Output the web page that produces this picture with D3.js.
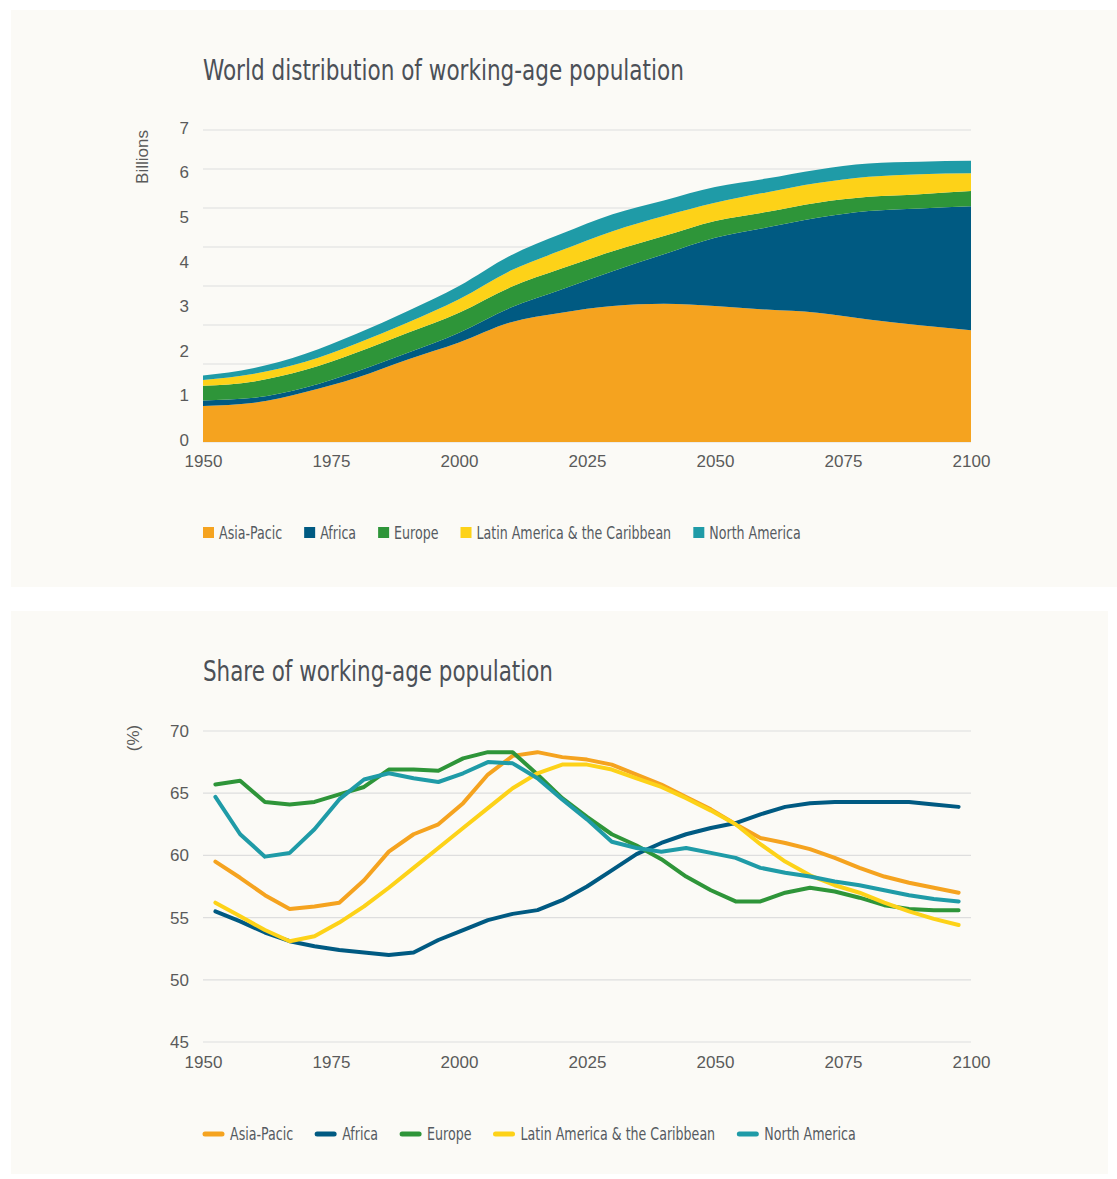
<!DOCTYPE html>
<html>
<head>
<meta charset="utf-8">
<script src="https://cdn.jsdelivr.net/npm/d3@7"></script>
<style>
    body { margin: 0; background: #ffffff; }
    .title { font-family: "DejaVu Sans", sans-serif; font-stretch: condensed; font-size: 29px; fill: #4b5057; }
    .legend text { font-family: "DejaVu Sans", sans-serif; font-stretch: condensed; font-size: 18px; fill: #555a61; }
    .tick text { font-family: "Liberation Sans", Arial, sans-serif; font-size: 17px; fill: #5a5a5a; }
    .axis_label { font-family: "Liberation Sans", Arial, sans-serif; font-size: 17px; fill: #5a5a5a; }
    .grid line { stroke: #dedede; stroke-width: 1.2; }
</style>
</head>
<body>
<div id="container"><svg></svg></div>
<script>
// regions, same order in both charts
let regions = ['Asia-Pacic', 'Africa', 'Europe', 'Latin America & the Caribbean', 'North America'];
let colors = ['#f5a31f', '#005a82', '#2e9539', '#fdd218', '#1f9ba7'];

// chart 1: working-age population, billions (every 10 years)
let years10 = [1950, 1960, 1970, 1980, 1990, 2000, 2010, 2020, 2030, 2040, 2050, 2060, 2070, 2080, 2090, 2100];
let pop_asia   = [0.81, 0.88, 1.12, 1.44, 1.85, 2.23, 2.68, 2.90, 3.05, 3.10, 3.05, 2.97, 2.90, 2.75, 2.62, 2.51];
let pop_africa = [0.12, 0.11, 0.10, 0.14, 0.15, 0.22, 0.33, 0.52, 0.78, 1.11, 1.53, 1.84, 2.13, 2.43, 2.62, 2.78];
let pop_europe = [0.33, 0.37, 0.40, 0.43, 0.45, 0.45, 0.46, 0.47, 0.45, 0.41, 0.38, 0.35, 0.34, 0.32, 0.32, 0.34];
let pop_latin  = [0.13, 0.17, 0.18, 0.20, 0.23, 0.30, 0.37, 0.41, 0.45, 0.45, 0.41, 0.44, 0.44, 0.45, 0.45, 0.40];
let pop_namer  = [0.10, 0.13, 0.18, 0.22, 0.26, 0.30, 0.34, 0.37, 0.38, 0.35, 0.35, 0.31, 0.30, 0.30, 0.28, 0.28];

// chart 2: share of working-age population, % (every 5 years)
let years5 = d3.range(1950, 2101, 5);
let share_asia   = [59.5, 58.2, 56.8, 55.7, 55.9, 56.2, 58.0, 60.3, 61.7, 62.5, 64.2, 66.5, 68.0, 68.3, 67.9, 67.7, 67.3, 66.5, 65.7, 64.7, 63.7, 62.5, 61.4, 61.0, 60.5, 59.8, 59.0, 58.3, 57.8, 57.4, 57.0];
let share_africa = [55.5, 54.7, 53.8, 53.1, 52.7, 52.4, 52.2, 52.0, 52.2, 53.2, 54.0, 54.8, 55.3, 55.6, 56.4, 57.5, 58.8, 60.1, 61.0, 61.7, 62.2, 62.6, 63.3, 63.9, 64.2, 64.3, 64.3, 64.3, 64.3, 64.1, 63.9];
let share_europe = [65.7, 66.0, 64.3, 64.1, 64.3, 64.9, 65.5, 66.9, 66.9, 66.8, 67.8, 68.3, 68.3, 66.5, 64.6, 63.1, 61.7, 60.8, 59.7, 58.3, 57.2, 56.3, 56.3, 57.0, 57.4, 57.1, 56.6, 56.0, 55.7, 55.6, 55.6];
let share_latin  = [56.2, 55.1, 54.0, 53.1, 53.5, 54.6, 55.9, 57.4, 59.0, 60.6, 62.2, 63.8, 65.4, 66.6, 67.3, 67.3, 66.9, 66.2, 65.5, 64.6, 63.6, 62.5, 60.9, 59.5, 58.4, 57.6, 57.0, 56.2, 55.5, 54.9, 54.4];
let share_namer  = [64.7, 61.7, 59.9, 60.2, 62.1, 64.5, 66.1, 66.6, 66.2, 65.9, 66.6, 67.5, 67.4, 66.2, 64.5, 62.9, 61.1, 60.6, 60.3, 60.6, 60.2, 59.8, 59.0, 58.6, 58.3, 57.9, 57.6, 57.2, 56.8, 56.5, 56.3];

let x_ticks = [1950, 1975, 2000, 2025, 2050, 2075, 2100];
let pop_ticks = [0, 1, 2, 3, 4, 5, 6, 7];
let share_ticks = [45, 50, 55, 60, 65, 70];

let _width = 1117;
let _height = 1179;
let squeeze = 0.78;   // the source uses a condensed face

let svg = d3.select('#container').select('svg')
    .attr('width', _width)
    .attr('height', _height);

// two cream panels
svg.append('rect').attr('x', 11).attr('y', 10).attr('width', 1106).attr('height', 577).attr('fill', '#fbfaf6');
svg.append('rect').attr('x', 11).attr('y', 611).attr('width', 1097).attr('height', 563).attr('fill', '#fbfaf6');

// squeeze a text horizontally (optionally to a given width), returns new width
function condense(t, x, y, len) {
    let w0 = t.node().getComputedTextLength();
    let k = len ? len / w0 : squeeze;
    t.attr('transform', `translate(${x},${y}) scale(${k},1)`);
    return w0 * k;
}

function draw_legend(g, kind) {
    let cx = 0;
    regions.forEach((r, i) => {
        let item = g.append('g').attr('transform', `translate(${cx},0)`);
        let offset;
        if (kind == 'square') {
            item.append('rect')
                .attr('x', 0).attr('y', -12)
                .attr('width', 11).attr('height', 11)
                .attr('fill', colors[i]);
            offset = 16;
        } else {
            item.append('line')
                .attr('x1', 2).attr('x2', 19)
                .attr('y1', -6).attr('y2', -6)
                .attr('stroke', colors[i])
                .attr('stroke-width', 5)
                .attr('stroke-linecap', 'round');
            offset = 27;
        }
        let t = item.append('text').text(r);
        cx += offset + condense(t, offset, 0) + 22;
    });
}

function draw_area() {
    let x = d3.scaleLinear().domain([1950, 2100]).range([203, 971]);
    let y = d3.scaleLinear().domain([0, 7]).range([442, 130]);

    condense(svg.append('text')
        .attr('class', 'title')
        .text('World distribution of working-age population'), 203, 80, 481);

    // grid (the source draws 8 evenly spaced rules over the 0-7 range)
    svg.append('g')
        .attr('class', 'grid')
        .selectAll('line')
        .data(d3.range(9).map(i => i * 7 / 8))
        .enter().append('line')
        .attr('x1', 203).attr('x2', 971)
        .attr('y1', d => y(d)).attr('y2', d => y(d));

    let series = [pop_asia, pop_africa, pop_europe, pop_latin, pop_namer];
    let rows = years10.map((yr, i) => {
        let row = {year: yr};
        regions.forEach((r, k) => row[r] = series[k][i]);
        return row;
    });
    let stacked = d3.stack().keys(regions)(rows);

    let area = d3.area()
        .x(d => x(d.data.year))
        .y0(d => y(d[0]))
        .y1(d => y(d[1]))
        .curve(d3.curveMonotoneX);

    svg.append('g')
        .selectAll('path')
        .data(stacked)
        .enter().append('path')
        .attr('d', area)
        .attr('fill', (d, i) => colors[i]);

    // axes
    svg.append('g')
        .attr('transform', `translate(0, 451)`)
        .call(d3.axisBottom(x).tickValues(x_ticks).tickFormat(d => d).tickSize(0).tickPadding(4))
        .call(g => g.select('.domain').remove());

    svg.append('g')
        .attr('transform', `translate(203, 0)`)
        .call(d3.axisLeft(y).tickValues(pop_ticks).tickFormat(d3.format('d')).tickSize(0).tickPadding(14))
        .call(g => g.select('.domain').remove())
        .selectAll('text').attr('dy', '0.2em');

    svg.append('text')
        .attr('class', 'axis_label')
        .attr('transform', `translate(148, 157) rotate(-90)`)
        .attr('text-anchor', 'middle')
        .text('Billions');

    draw_legend(svg.append('g').attr('class', 'legend').attr('transform', 'translate(203, 539)'), 'square');
}

function draw_lines() {
    let x_axis = d3.scaleLinear().domain([1950, 2100]).range([203, 971]);
    let x = d3.scalePoint().domain(years5).range([203, 971]).padding(0.5);
    let y = d3.scaleLinear().domain([45, 70]).range([1042, 731]);

    condense(svg.append('text')
        .attr('class', 'title')
        .text('Share of working-age population'), 203, 681, 350);

    svg.append('g')
        .attr('class', 'grid')
        .selectAll('line')
        .data(share_ticks)
        .enter().append('line')
        .attr('x1', 203).attr('x2', 971)
        .attr('y1', d => y(d)).attr('y2', d => y(d));

    let series = [share_asia, share_africa, share_europe, share_latin, share_namer];
    let line = d3.line()
        .x((d, i) => x(years5[i]))
        .y(d => y(d));

    svg.append('g')
        .selectAll('path')
        .data(series)
        .enter().append('path')
        .attr('d', line)
        .attr('fill', 'none')
        .attr('stroke', (d, i) => colors[i])
        .attr('stroke-width', 4)
        .attr('stroke-linejoin', 'round')
        .attr('stroke-linecap', 'round');

    svg.append('g')
        .attr('transform', `translate(0, 1052)`)
        .call(d3.axisBottom(x_axis).tickValues(x_ticks).tickFormat(d => d).tickSize(0).tickPadding(4))
        .call(g => g.select('.domain').remove());

    svg.append('g')
        .attr('transform', `translate(203, 0)`)
        .call(d3.axisLeft(y).tickValues(share_ticks).tickSize(0).tickPadding(14))
        .call(g => g.select('.domain').remove());

    svg.append('text')
        .attr('class', 'axis_label')
        .attr('transform', `translate(139, 738) rotate(-90)`)
        .attr('text-anchor', 'middle')
        .text('(%)');

    draw_legend(svg.append('g').attr('class', 'legend').attr('transform', 'translate(203, 1140)'), 'line');
}

draw_area();
draw_lines();
</script>
</body>
</html>
